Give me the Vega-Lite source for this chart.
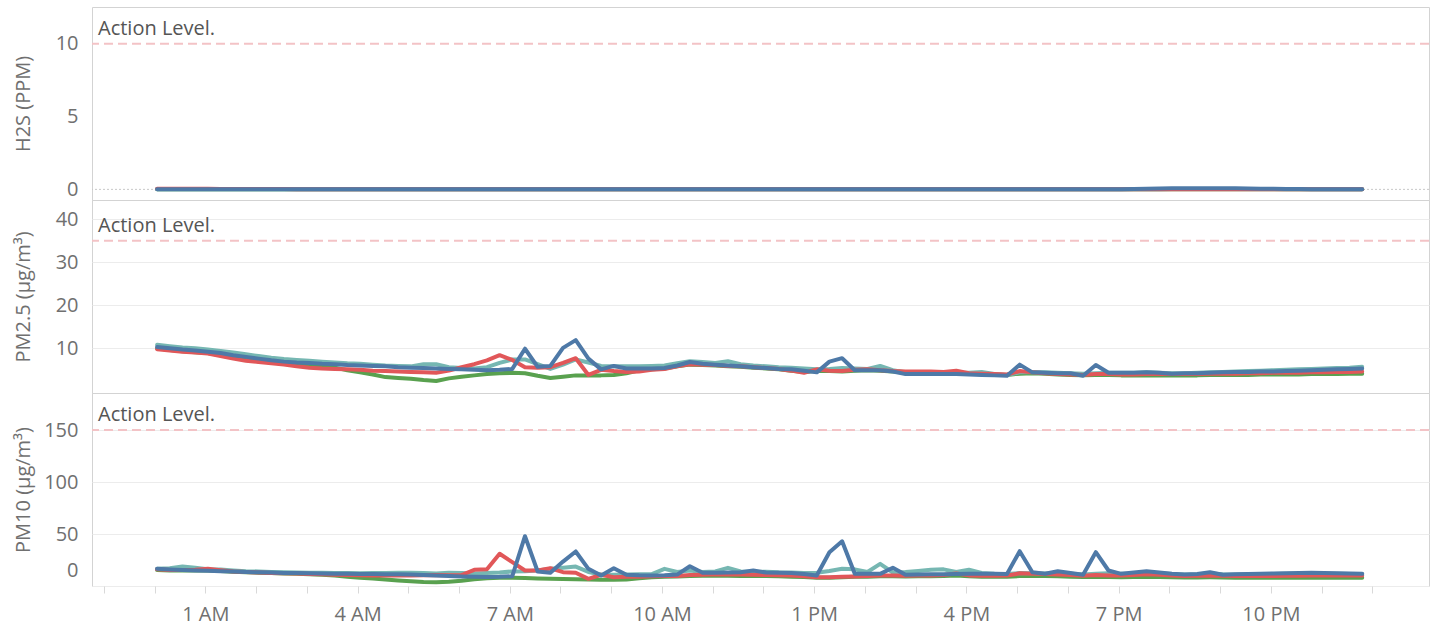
{
"$schema": "https://vega.github.io/schema/vega-lite/v6.json",
"autosize": {"type": "pad"},
"padding": {"left": 12, "top": 6, "right": 3, "bottom": 5},
"bounds": "flush",
"background": "white",
"spacing": 0,
"resolve": {"scale": {"x": "independent", "y": "independent"}},
"config": {
  "view": {"stroke": "#d3d3d3", "strokeWidth": 1},
  "font": "Open Sans",
  "axis": {"labelFont": "Open Sans", "titleFont": "Open Sans", "labelFontSize": 20, "labelColor": "#707070", "titleFontSize": 20, "titleColor": "#707070", "titleFontWeight": "normal", "gridColor": "#ececec", "domain": false, "ticks": false}
},
"datasets": {
"d": [
{"t":"2024-01-01T00:03","s":"Green","h2s":0,"pm25":10.0,"pm10":15.5},
{"t":"2024-01-01T00:18","s":"Green","h2s":0,"pm25":9.6,"pm10":15.0},
{"t":"2024-01-01T00:33","s":"Green","h2s":0,"pm25":9.3,"pm10":14.8},
{"t":"2024-01-01T00:48","s":"Green","h2s":0,"pm25":9.1,"pm10":14.8},
{"t":"2024-01-01T01:03","s":"Green","h2s":0,"pm25":8.9,"pm10":15.0},
{"t":"2024-01-01T01:18","s":"Green","h2s":0,"pm25":8.4,"pm10":14.5},
{"t":"2024-01-01T01:33","s":"Green","h2s":0,"pm25":7.8,"pm10":13.7},
{"t":"2024-01-01T01:48","s":"Green","h2s":0,"pm25":7.3,"pm10":13.2},
{"t":"2024-01-01T02:03","s":"Green","h2s":0,"pm25":7.0,"pm10":12.8},
{"t":"2024-01-01T02:18","s":"Green","h2s":0,"pm25":6.7,"pm10":12.4},
{"t":"2024-01-01T02:33","s":"Green","h2s":0,"pm25":6.4,"pm10":12.1},
{"t":"2024-01-01T02:48","s":"Green","h2s":0,"pm25":6.1,"pm10":11.8},
{"t":"2024-01-01T03:03","s":"Green","h2s":0,"pm25":5.9,"pm10":11.4},
{"t":"2024-01-01T03:18","s":"Green","h2s":0,"pm25":5.7,"pm10":10.8},
{"t":"2024-01-01T03:33","s":"Green","h2s":0,"pm25":5.5,"pm10":10.0},
{"t":"2024-01-01T03:48","s":"Green","h2s":0,"pm25":4.9,"pm10":9.0},
{"t":"2024-01-01T04:03","s":"Green","h2s":0,"pm25":4.4,"pm10":8.0},
{"t":"2024-01-01T04:18","s":"Green","h2s":0,"pm25":3.9,"pm10":7.2},
{"t":"2024-01-01T04:33","s":"Green","h2s":0,"pm25":3.3,"pm10":6.3},
{"t":"2024-01-01T04:48","s":"Green","h2s":0,"pm25":3.1,"pm10":5.4},
{"t":"2024-01-01T05:03","s":"Green","h2s":0,"pm25":2.9,"pm10":4.6},
{"t":"2024-01-01T05:18","s":"Green","h2s":0,"pm25":2.6,"pm10":3.8},
{"t":"2024-01-01T05:33","s":"Green","h2s":0,"pm25":2.4,"pm10":3.6},
{"t":"2024-01-01T05:48","s":"Green","h2s":0,"pm25":3.0,"pm10":4.0},
{"t":"2024-01-01T06:03","s":"Green","h2s":0,"pm25":3.4,"pm10":5.0},
{"t":"2024-01-01T06:18","s":"Green","h2s":0,"pm25":3.7,"pm10":6.5},
{"t":"2024-01-01T06:33","s":"Green","h2s":0,"pm25":4.0,"pm10":7.5},
{"t":"2024-01-01T06:48","s":"Green","h2s":0,"pm25":4.2,"pm10":8.0},
{"t":"2024-01-01T07:03","s":"Green","h2s":0,"pm25":4.3,"pm10":8.0},
{"t":"2024-01-01T07:18","s":"Green","h2s":0,"pm25":4.2,"pm10":7.8},
{"t":"2024-01-01T07:33","s":"Green","h2s":0,"pm25":3.6,"pm10":7.3},
{"t":"2024-01-01T07:48","s":"Green","h2s":0,"pm25":3.1,"pm10":7.0},
{"t":"2024-01-01T08:03","s":"Green","h2s":0,"pm25":3.4,"pm10":6.8},
{"t":"2024-01-01T08:18","s":"Green","h2s":0,"pm25":3.7,"pm10":6.5},
{"t":"2024-01-01T08:33","s":"Green","h2s":0,"pm25":3.7,"pm10":6.2},
{"t":"2024-01-01T08:48","s":"Green","h2s":0,"pm25":3.7,"pm10":6.0},
{"t":"2024-01-01T09:03","s":"Green","h2s":0,"pm25":3.8,"pm10":6.0},
{"t":"2024-01-01T09:18","s":"Green","h2s":0,"pm25":4.2,"pm10":6.3},
{"t":"2024-01-01T09:33","s":"Green","h2s":0,"pm25":4.9,"pm10":7.5},
{"t":"2024-01-01T09:48","s":"Green","h2s":0,"pm25":5.1,"pm10":8.5},
{"t":"2024-01-01T10:03","s":"Green","h2s":0,"pm25":5.3,"pm10":9.0},
{"t":"2024-01-01T10:18","s":"Green","h2s":0,"pm25":5.8,"pm10":9.2},
{"t":"2024-01-01T10:33","s":"Green","h2s":0,"pm25":6.2,"pm10":9.6},
{"t":"2024-01-01T10:48","s":"Green","h2s":0,"pm25":6.1,"pm10":9.8},
{"t":"2024-01-01T11:03","s":"Green","h2s":0,"pm25":6.0,"pm10":10.0},
{"t":"2024-01-01T11:18","s":"Green","h2s":0,"pm25":5.8,"pm10":9.8},
{"t":"2024-01-01T11:33","s":"Green","h2s":0,"pm25":5.7,"pm10":9.7},
{"t":"2024-01-01T11:48","s":"Green","h2s":0,"pm25":5.5,"pm10":9.6},
{"t":"2024-01-01T12:03","s":"Green","h2s":0,"pm25":5.3,"pm10":9.5},
{"t":"2024-01-01T12:18","s":"Green","h2s":0,"pm25":5.1,"pm10":9.3},
{"t":"2024-01-01T12:33","s":"Green","h2s":0,"pm25":4.8,"pm10":9.0},
{"t":"2024-01-01T12:48","s":"Green","h2s":0,"pm25":4.5,"pm10":8.6},
{"t":"2024-01-01T13:03","s":"Green","h2s":0,"pm25":4.8,"pm10":8.0},
{"t":"2024-01-01T13:18","s":"Green","h2s":0,"pm25":4.7,"pm10":8.0},
{"t":"2024-01-01T13:33","s":"Green","h2s":0,"pm25":4.6,"pm10":8.4},
{"t":"2024-01-01T13:48","s":"Green","h2s":0,"pm25":4.8,"pm10":8.8},
{"t":"2024-01-01T14:03","s":"Green","h2s":0,"pm25":4.9,"pm10":9.0},
{"t":"2024-01-01T14:18","s":"Green","h2s":0,"pm25":4.8,"pm10":9.3},
{"t":"2024-01-01T14:33","s":"Green","h2s":0,"pm25":4.6,"pm10":9.3},
{"t":"2024-01-01T14:48","s":"Green","h2s":0,"pm25":4.5,"pm10":9.2},
{"t":"2024-01-01T15:03","s":"Green","h2s":0,"pm25":4.4,"pm10":9.3},
{"t":"2024-01-01T15:18","s":"Green","h2s":0,"pm25":4.4,"pm10":9.3},
{"t":"2024-01-01T15:33","s":"Green","h2s":0,"pm25":4.4,"pm10":9.5},
{"t":"2024-01-01T15:48","s":"Green","h2s":0,"pm25":4.4,"pm10":10.0},
{"t":"2024-01-01T16:03","s":"Green","h2s":0,"pm25":4.1,"pm10":9.4},
{"t":"2024-01-01T16:18","s":"Green","h2s":0,"pm25":4.0,"pm10":9.0},
{"t":"2024-01-01T16:33","s":"Green","h2s":0,"pm25":3.9,"pm10":8.8},
{"t":"2024-01-01T16:48","s":"Green","h2s":0,"pm25":3.8,"pm10":8.8},
{"t":"2024-01-01T17:03","s":"Green","h2s":0,"pm25":4.1,"pm10":9.6},
{"t":"2024-01-01T17:18","s":"Green","h2s":0,"pm25":4.2,"pm10":9.8},
{"t":"2024-01-01T17:33","s":"Green","h2s":0,"pm25":4.1,"pm10":9.6},
{"t":"2024-01-01T17:48","s":"Green","h2s":0,"pm25":3.9,"pm10":9.3},
{"t":"2024-01-01T18:03","s":"Green","h2s":0,"pm25":3.8,"pm10":9.0},
{"t":"2024-01-01T18:18","s":"Green","h2s":0,"pm25":3.7,"pm10":8.6},
{"t":"2024-01-01T18:33","s":"Green","h2s":0,"pm25":3.8,"pm10":8.8},
{"t":"2024-01-01T18:48","s":"Green","h2s":0,"pm25":3.8,"pm10":8.7},
{"t":"2024-01-01T19:03","s":"Green","h2s":0,"pm25":3.7,"pm10":8.5},
{"t":"2024-01-01T19:18","s":"Green","h2s":0,"pm25":3.7,"pm10":8.6},
{"t":"2024-01-01T19:33","s":"Green","h2s":0,"pm25":3.7,"pm10":8.8},
{"t":"2024-01-01T19:48","s":"Green","h2s":0,"pm25":3.7,"pm10":8.7},
{"t":"2024-01-01T20:03","s":"Green","h2s":0,"pm25":3.7,"pm10":8.5},
{"t":"2024-01-01T20:18","s":"Green","h2s":0,"pm25":3.7,"pm10":8.2},
{"t":"2024-01-01T20:33","s":"Green","h2s":0,"pm25":3.7,"pm10":8.2},
{"t":"2024-01-01T20:48","s":"Green","h2s":0,"pm25":3.8,"pm10":8.3},
{"t":"2024-01-01T21:03","s":"Green","h2s":0,"pm25":3.8,"pm10":8.2},
{"t":"2024-01-01T21:18","s":"Green","h2s":0,"pm25":3.8,"pm10":8.0},
{"t":"2024-01-01T21:33","s":"Green","h2s":0,"pm25":3.8,"pm10":8.0},
{"t":"2024-01-01T21:48","s":"Green","h2s":0,"pm25":3.9,"pm10":8.0},
{"t":"2024-01-01T22:03","s":"Green","h2s":0,"pm25":3.9,"pm10":8.0},
{"t":"2024-01-01T22:18","s":"Green","h2s":0,"pm25":3.9,"pm10":8.0},
{"t":"2024-01-01T22:33","s":"Green","h2s":0,"pm25":3.9,"pm10":8.0},
{"t":"2024-01-01T22:48","s":"Green","h2s":0,"pm25":4.0,"pm10":7.9},
{"t":"2024-01-01T23:03","s":"Green","h2s":0,"pm25":4.0,"pm10":7.9},
{"t":"2024-01-01T23:18","s":"Green","h2s":0,"pm25":4.0,"pm10":7.9},
{"t":"2024-01-01T23:33","s":"Green","h2s":0,"pm25":4.1,"pm10":7.9},
{"t":"2024-01-01T23:48","s":"Green","h2s":0,"pm25":4.1,"pm10":7.9},
{"t":"2024-01-01T00:03","s":"Teal","h2s":0,"pm25":10.8,"pm10":16.5},
{"t":"2024-01-01T00:18","s":"Teal","h2s":0,"pm25":10.5,"pm10":17.0},
{"t":"2024-01-01T00:33","s":"Teal","h2s":0,"pm25":10.2,"pm10":18.7},
{"t":"2024-01-01T00:48","s":"Teal","h2s":0,"pm25":10.0,"pm10":17.5},
{"t":"2024-01-01T01:03","s":"Teal","h2s":0,"pm25":9.7,"pm10":16.2},
{"t":"2024-01-01T01:18","s":"Teal","h2s":0,"pm25":9.4,"pm10":15.8},
{"t":"2024-01-01T01:33","s":"Teal","h2s":0,"pm25":9.0,"pm10":15.0},
{"t":"2024-01-01T01:48","s":"Teal","h2s":0,"pm25":8.6,"pm10":14.3},
{"t":"2024-01-01T02:03","s":"Teal","h2s":0,"pm25":8.2,"pm10":14.0},
{"t":"2024-01-01T02:18","s":"Teal","h2s":0,"pm25":7.8,"pm10":13.5},
{"t":"2024-01-01T02:33","s":"Teal","h2s":0,"pm25":7.5,"pm10":13.2},
{"t":"2024-01-01T02:48","s":"Teal","h2s":0,"pm25":7.3,"pm10":13.0},
{"t":"2024-01-01T03:03","s":"Teal","h2s":0,"pm25":7.1,"pm10":12.8},
{"t":"2024-01-01T03:18","s":"Teal","h2s":0,"pm25":6.9,"pm10":12.7},
{"t":"2024-01-01T03:33","s":"Teal","h2s":0,"pm25":6.7,"pm10":12.5},
{"t":"2024-01-01T03:48","s":"Teal","h2s":0,"pm25":6.5,"pm10":12.4},
{"t":"2024-01-01T04:03","s":"Teal","h2s":0,"pm25":6.4,"pm10":12.3},
{"t":"2024-01-01T04:18","s":"Teal","h2s":0,"pm25":6.2,"pm10":12.4},
{"t":"2024-01-01T04:33","s":"Teal","h2s":0,"pm25":6.0,"pm10":12.6},
{"t":"2024-01-01T04:48","s":"Teal","h2s":0,"pm25":5.9,"pm10":12.8},
{"t":"2024-01-01T05:03","s":"Teal","h2s":0,"pm25":5.8,"pm10":12.8},
{"t":"2024-01-01T05:18","s":"Teal","h2s":0,"pm25":6.3,"pm10":12.5},
{"t":"2024-01-01T05:33","s":"Teal","h2s":0,"pm25":6.3,"pm10":12.0},
{"t":"2024-01-01T05:48","s":"Teal","h2s":0,"pm25":5.6,"pm10":12.8},
{"t":"2024-01-01T06:03","s":"Teal","h2s":0,"pm25":5.4,"pm10":12.6},
{"t":"2024-01-01T06:18","s":"Teal","h2s":0,"pm25":5.3,"pm10":12.0},
{"t":"2024-01-01T06:33","s":"Teal","h2s":0,"pm25":5.6,"pm10":12.5},
{"t":"2024-01-01T06:48","s":"Teal","h2s":0,"pm25":6.6,"pm10":13.0},
{"t":"2024-01-01T07:03","s":"Teal","h2s":0,"pm25":7.4,"pm10":14.0},
{"t":"2024-01-01T07:18","s":"Teal","h2s":0,"pm25":7.4,"pm10":14.2},
{"t":"2024-01-01T07:33","s":"Teal","h2s":0,"pm25":6.3,"pm10":15.0},
{"t":"2024-01-01T07:48","s":"Teal","h2s":0,"pm25":5.2,"pm10":16.5},
{"t":"2024-01-01T08:03","s":"Teal","h2s":0,"pm25":6.2,"pm10":17.5},
{"t":"2024-01-01T08:18","s":"Teal","h2s":0,"pm25":7.4,"pm10":18.7},
{"t":"2024-01-01T08:33","s":"Teal","h2s":0,"pm25":6.7,"pm10":13.5},
{"t":"2024-01-01T08:48","s":"Teal","h2s":0,"pm25":5.9,"pm10":11.0},
{"t":"2024-01-01T09:03","s":"Teal","h2s":0,"pm25":5.8,"pm10":10.8},
{"t":"2024-01-01T09:18","s":"Teal","h2s":0,"pm25":5.8,"pm10":11.0},
{"t":"2024-01-01T09:33","s":"Teal","h2s":0,"pm25":5.8,"pm10":11.3},
{"t":"2024-01-01T09:48","s":"Teal","h2s":0,"pm25":5.9,"pm10":11.5},
{"t":"2024-01-01T10:03","s":"Teal","h2s":0,"pm25":6.0,"pm10":16.5},
{"t":"2024-01-01T10:18","s":"Teal","h2s":0,"pm25":6.5,"pm10":13.5},
{"t":"2024-01-01T10:33","s":"Teal","h2s":0,"pm25":7.0,"pm10":15.0},
{"t":"2024-01-01T10:48","s":"Teal","h2s":0,"pm25":6.8,"pm10":13.5},
{"t":"2024-01-01T11:03","s":"Teal","h2s":0,"pm25":6.6,"pm10":14.0},
{"t":"2024-01-01T11:18","s":"Teal","h2s":0,"pm25":7.0,"pm10":17.5},
{"t":"2024-01-01T11:33","s":"Teal","h2s":0,"pm25":6.3,"pm10":14.0},
{"t":"2024-01-01T11:48","s":"Teal","h2s":0,"pm25":6.0,"pm10":13.5},
{"t":"2024-01-01T12:03","s":"Teal","h2s":0,"pm25":5.8,"pm10":13.8},
{"t":"2024-01-01T12:18","s":"Teal","h2s":0,"pm25":5.6,"pm10":13.2},
{"t":"2024-01-01T12:33","s":"Teal","h2s":0,"pm25":5.5,"pm10":13.0},
{"t":"2024-01-01T12:48","s":"Teal","h2s":0,"pm25":5.3,"pm10":12.5},
{"t":"2024-01-01T13:03","s":"Teal","h2s":0,"pm25":5.1,"pm10":12.8},
{"t":"2024-01-01T13:18","s":"Teal","h2s":0,"pm25":5.2,"pm10":14.5},
{"t":"2024-01-01T13:33","s":"Teal","h2s":0,"pm25":5.4,"pm10":16.5},
{"t":"2024-01-01T13:48","s":"Teal","h2s":0,"pm25":5.3,"pm10":16.0},
{"t":"2024-01-01T14:03","s":"Teal","h2s":0,"pm25":5.2,"pm10":13.5},
{"t":"2024-01-01T14:18","s":"Teal","h2s":0,"pm25":5.9,"pm10":21.3},
{"t":"2024-01-01T14:33","s":"Teal","h2s":0,"pm25":4.9,"pm10":13.0},
{"t":"2024-01-01T14:48","s":"Teal","h2s":0,"pm25":4.4,"pm10":13.5},
{"t":"2024-01-01T15:03","s":"Teal","h2s":0,"pm25":4.3,"pm10":14.5},
{"t":"2024-01-01T15:18","s":"Teal","h2s":0,"pm25":4.3,"pm10":15.6},
{"t":"2024-01-01T15:33","s":"Teal","h2s":0,"pm25":4.3,"pm10":16.0},
{"t":"2024-01-01T15:48","s":"Teal","h2s":0,"pm25":4.3,"pm10":13.5},
{"t":"2024-01-01T16:03","s":"Teal","h2s":0,"pm25":4.3,"pm10":15.6},
{"t":"2024-01-01T16:18","s":"Teal","h2s":0,"pm25":4.5,"pm10":12.5},
{"t":"2024-01-01T16:33","s":"Teal","h2s":0,"pm25":4.0,"pm10":11.8},
{"t":"2024-01-01T16:48","s":"Teal","h2s":0,"pm25":3.8,"pm10":11.5},
{"t":"2024-01-01T17:03","s":"Teal","h2s":0,"pm25":4.4,"pm10":12.5},
{"t":"2024-01-01T17:18","s":"Teal","h2s":0,"pm25":4.5,"pm10":12.3},
{"t":"2024-01-01T17:33","s":"Teal","h2s":0,"pm25":4.4,"pm10":12.0},
{"t":"2024-01-01T17:48","s":"Teal","h2s":0,"pm25":4.3,"pm10":12.4},
{"t":"2024-01-01T18:03","s":"Teal","h2s":0,"pm25":4.2,"pm10":11.8},
{"t":"2024-01-01T18:18","s":"Teal","h2s":0,"pm25":4.1,"pm10":11.0},
{"t":"2024-01-01T18:33","s":"Teal","h2s":0,"pm25":4.2,"pm10":11.8},
{"t":"2024-01-01T18:48","s":"Teal","h2s":0,"pm25":4.3,"pm10":12.2},
{"t":"2024-01-01T19:03","s":"Teal","h2s":0,"pm25":4.3,"pm10":11.8},
{"t":"2024-01-01T19:18","s":"Teal","h2s":0,"pm25":4.3,"pm10":12.0},
{"t":"2024-01-01T19:33","s":"Teal","h2s":0,"pm25":4.4,"pm10":12.5},
{"t":"2024-01-01T19:48","s":"Teal","h2s":0,"pm25":4.3,"pm10":12.2},
{"t":"2024-01-01T20:03","s":"Teal","h2s":0.03,"pm25":4.2,"pm10":11.6},
{"t":"2024-01-01T20:18","s":"Teal","h2s":0.03,"pm25":4.2,"pm10":11.0},
{"t":"2024-01-01T20:33","s":"Teal","h2s":0.03,"pm25":4.3,"pm10":11.2},
{"t":"2024-01-01T20:48","s":"Teal","h2s":0.03,"pm25":4.4,"pm10":12.0},
{"t":"2024-01-01T21:03","s":"Teal","h2s":0.03,"pm25":4.5,"pm10":11.2},
{"t":"2024-01-01T21:18","s":"Teal","h2s":0.03,"pm25":4.6,"pm10":11.0},
{"t":"2024-01-01T21:33","s":"Teal","h2s":0.03,"pm25":4.7,"pm10":11.2},
{"t":"2024-01-01T21:48","s":"Teal","h2s":0.03,"pm25":4.8,"pm10":11.4},
{"t":"2024-01-01T22:03","s":"Teal","h2s":0.03,"pm25":4.9,"pm10":11.6},
{"t":"2024-01-01T22:18","s":"Teal","h2s":0,"pm25":5.0,"pm10":11.7},
{"t":"2024-01-01T22:33","s":"Teal","h2s":0,"pm25":5.1,"pm10":11.8},
{"t":"2024-01-01T22:48","s":"Teal","h2s":0,"pm25":5.2,"pm10":12.0},
{"t":"2024-01-01T23:03","s":"Teal","h2s":0,"pm25":5.3,"pm10":11.9},
{"t":"2024-01-01T23:18","s":"Teal","h2s":0,"pm25":5.4,"pm10":11.8},
{"t":"2024-01-01T23:33","s":"Teal","h2s":0,"pm25":5.5,"pm10":11.6},
{"t":"2024-01-01T23:48","s":"Teal","h2s":0,"pm25":5.7,"pm10":11.5},
{"t":"2024-01-01T00:03","s":"Red","h2s":0.05,"pm25":9.8,"pm10":16.0},
{"t":"2024-01-01T00:18","s":"Red","h2s":0.05,"pm25":9.5,"pm10":15.5},
{"t":"2024-01-01T00:33","s":"Red","h2s":0.05,"pm25":9.2,"pm10":15.3},
{"t":"2024-01-01T00:48","s":"Red","h2s":0.05,"pm25":9.0,"pm10":15.6},
{"t":"2024-01-01T01:03","s":"Red","h2s":0.05,"pm25":8.8,"pm10":16.5},
{"t":"2024-01-01T01:18","s":"Red","h2s":0.03,"pm25":8.2,"pm10":15.2},
{"t":"2024-01-01T01:33","s":"Red","h2s":0.03,"pm25":7.6,"pm10":14.0},
{"t":"2024-01-01T01:48","s":"Red","h2s":0.03,"pm25":7.1,"pm10":13.5},
{"t":"2024-01-01T02:03","s":"Red","h2s":0.03,"pm25":6.8,"pm10":13.0},
{"t":"2024-01-01T02:18","s":"Red","h2s":0.03,"pm25":6.5,"pm10":12.6},
{"t":"2024-01-01T02:33","s":"Red","h2s":0.03,"pm25":6.2,"pm10":12.3},
{"t":"2024-01-01T02:48","s":"Red","h2s":0,"pm25":5.8,"pm10":12.0},
{"t":"2024-01-01T03:03","s":"Red","h2s":0,"pm25":5.5,"pm10":11.6},
{"t":"2024-01-01T03:18","s":"Red","h2s":0,"pm25":5.3,"pm10":11.2},
{"t":"2024-01-01T03:33","s":"Red","h2s":0,"pm25":5.2,"pm10":10.9},
{"t":"2024-01-01T03:48","s":"Red","h2s":0,"pm25":5.1,"pm10":10.6},
{"t":"2024-01-01T04:03","s":"Red","h2s":0,"pm25":5.0,"pm10":10.4},
{"t":"2024-01-01T04:18","s":"Red","h2s":0,"pm25":4.8,"pm10":10.2},
{"t":"2024-01-01T04:33","s":"Red","h2s":0,"pm25":4.7,"pm10":10.0},
{"t":"2024-01-01T04:48","s":"Red","h2s":0,"pm25":4.6,"pm10":10.0},
{"t":"2024-01-01T05:03","s":"Red","h2s":0,"pm25":4.5,"pm10":10.2},
{"t":"2024-01-01T05:18","s":"Red","h2s":0,"pm25":4.4,"pm10":10.4},
{"t":"2024-01-01T05:33","s":"Red","h2s":0,"pm25":4.3,"pm10":10.5},
{"t":"2024-01-01T05:48","s":"Red","h2s":0,"pm25":4.8,"pm10":10.3},
{"t":"2024-01-01T06:03","s":"Red","h2s":0,"pm25":5.6,"pm10":10.6},
{"t":"2024-01-01T06:18","s":"Red","h2s":0,"pm25":6.3,"pm10":15.6},
{"t":"2024-01-01T06:33","s":"Red","h2s":0,"pm25":7.2,"pm10":16.0},
{"t":"2024-01-01T06:48","s":"Red","h2s":0,"pm25":8.4,"pm10":31.0},
{"t":"2024-01-01T07:03","s":"Red","h2s":0,"pm25":7.3,"pm10":22.9},
{"t":"2024-01-01T07:18","s":"Red","h2s":0,"pm25":5.6,"pm10":14.9},
{"t":"2024-01-01T07:33","s":"Red","h2s":0,"pm25":5.5,"pm10":14.9},
{"t":"2024-01-01T07:48","s":"Red","h2s":0,"pm25":5.6,"pm10":17.1},
{"t":"2024-01-01T08:03","s":"Red","h2s":0,"pm25":6.6,"pm10":13.3},
{"t":"2024-01-01T08:18","s":"Red","h2s":0,"pm25":7.7,"pm10":12.7},
{"t":"2024-01-01T08:33","s":"Red","h2s":0,"pm25":3.8,"pm10":6.9},
{"t":"2024-01-01T08:48","s":"Red","h2s":0,"pm25":5.0,"pm10":10.8},
{"t":"2024-01-01T09:03","s":"Red","h2s":0,"pm25":4.7,"pm10":8.5},
{"t":"2024-01-01T09:18","s":"Red","h2s":0,"pm25":4.5,"pm10":8.8},
{"t":"2024-01-01T09:33","s":"Red","h2s":0,"pm25":4.6,"pm10":9.0},
{"t":"2024-01-01T09:48","s":"Red","h2s":0,"pm25":5.0,"pm10":9.3},
{"t":"2024-01-01T10:03","s":"Red","h2s":0,"pm25":5.2,"pm10":9.5},
{"t":"2024-01-01T10:18","s":"Red","h2s":0,"pm25":5.8,"pm10":9.7},
{"t":"2024-01-01T10:33","s":"Red","h2s":0,"pm25":6.3,"pm10":10.5},
{"t":"2024-01-01T10:48","s":"Red","h2s":0,"pm25":6.2,"pm10":10.8},
{"t":"2024-01-01T11:03","s":"Red","h2s":0,"pm25":6.1,"pm10":11.2},
{"t":"2024-01-01T11:18","s":"Red","h2s":0,"pm25":5.9,"pm10":11.0},
{"t":"2024-01-01T11:33","s":"Red","h2s":0,"pm25":5.8,"pm10":11.0},
{"t":"2024-01-01T11:48","s":"Red","h2s":0,"pm25":5.6,"pm10":10.8},
{"t":"2024-01-01T12:03","s":"Red","h2s":0,"pm25":5.4,"pm10":10.6},
{"t":"2024-01-01T12:18","s":"Red","h2s":0,"pm25":5.2,"pm10":10.4},
{"t":"2024-01-01T12:33","s":"Red","h2s":0,"pm25":4.8,"pm10":10.0},
{"t":"2024-01-01T12:48","s":"Red","h2s":0,"pm25":4.3,"pm10":9.4},
{"t":"2024-01-01T13:03","s":"Red","h2s":0,"pm25":5.1,"pm10":8.5},
{"t":"2024-01-01T13:18","s":"Red","h2s":0,"pm25":4.8,"pm10":8.3},
{"t":"2024-01-01T13:33","s":"Red","h2s":0,"pm25":4.7,"pm10":8.8},
{"t":"2024-01-01T13:48","s":"Red","h2s":0,"pm25":5.0,"pm10":9.2},
{"t":"2024-01-01T14:03","s":"Red","h2s":0,"pm25":5.1,"pm10":9.5},
{"t":"2024-01-01T14:18","s":"Red","h2s":0,"pm25":4.9,"pm10":10.0},
{"t":"2024-01-01T14:33","s":"Red","h2s":0,"pm25":4.7,"pm10":10.0},
{"t":"2024-01-01T14:48","s":"Red","h2s":0,"pm25":4.6,"pm10":9.8},
{"t":"2024-01-01T15:03","s":"Red","h2s":0,"pm25":4.6,"pm10":10.0},
{"t":"2024-01-01T15:18","s":"Red","h2s":0,"pm25":4.6,"pm10":10.0},
{"t":"2024-01-01T15:33","s":"Red","h2s":0,"pm25":4.5,"pm10":10.5},
{"t":"2024-01-01T15:48","s":"Red","h2s":0,"pm25":4.8,"pm10":12.0},
{"t":"2024-01-01T16:03","s":"Red","h2s":0,"pm25":4.2,"pm10":10.2},
{"t":"2024-01-01T16:18","s":"Red","h2s":0,"pm25":4.1,"pm10":9.8},
{"t":"2024-01-01T16:33","s":"Red","h2s":0,"pm25":4.0,"pm10":9.8},
{"t":"2024-01-01T16:48","s":"Red","h2s":0,"pm25":3.9,"pm10":10.0},
{"t":"2024-01-01T17:03","s":"Red","h2s":0,"pm25":4.7,"pm10":12.2},
{"t":"2024-01-01T17:18","s":"Red","h2s":0,"pm25":4.4,"pm10":11.8},
{"t":"2024-01-01T17:33","s":"Red","h2s":0,"pm25":4.2,"pm10":11.5},
{"t":"2024-01-01T17:48","s":"Red","h2s":0,"pm25":4.0,"pm10":11.0},
{"t":"2024-01-01T18:03","s":"Red","h2s":0,"pm25":3.9,"pm10":10.6},
{"t":"2024-01-01T18:18","s":"Red","h2s":0,"pm25":3.8,"pm10":9.8},
{"t":"2024-01-01T18:33","s":"Red","h2s":0,"pm25":4.0,"pm10":10.5},
{"t":"2024-01-01T18:48","s":"Red","h2s":0,"pm25":4.0,"pm10":10.2},
{"t":"2024-01-01T19:03","s":"Red","h2s":0,"pm25":3.9,"pm10":10.0},
{"t":"2024-01-01T19:18","s":"Red","h2s":0,"pm25":3.9,"pm10":10.6},
{"t":"2024-01-01T19:33","s":"Red","h2s":0,"pm25":4.0,"pm10":11.2},
{"t":"2024-01-01T19:48","s":"Red","h2s":0,"pm25":4.0,"pm10":10.8},
{"t":"2024-01-01T20:03","s":"Red","h2s":0,"pm25":4.0,"pm10":10.2},
{"t":"2024-01-01T20:18","s":"Red","h2s":0,"pm25":4.0,"pm10":9.6},
{"t":"2024-01-01T20:33","s":"Red","h2s":0,"pm25":4.0,"pm10":9.8},
{"t":"2024-01-01T20:48","s":"Red","h2s":0,"pm25":4.1,"pm10":10.2},
{"t":"2024-01-01T21:03","s":"Red","h2s":0,"pm25":4.1,"pm10":9.9},
{"t":"2024-01-01T21:18","s":"Red","h2s":0,"pm25":4.1,"pm10":9.6},
{"t":"2024-01-01T21:33","s":"Red","h2s":0,"pm25":4.2,"pm10":9.5},
{"t":"2024-01-01T21:48","s":"Red","h2s":0,"pm25":4.2,"pm10":9.6},
{"t":"2024-01-01T22:03","s":"Red","h2s":0,"pm25":4.3,"pm10":9.7},
{"t":"2024-01-01T22:18","s":"Red","h2s":0,"pm25":4.3,"pm10":9.8},
{"t":"2024-01-01T22:33","s":"Red","h2s":0,"pm25":4.3,"pm10":9.9},
{"t":"2024-01-01T22:48","s":"Red","h2s":0,"pm25":4.4,"pm10":10.0},
{"t":"2024-01-01T23:03","s":"Red","h2s":0,"pm25":4.4,"pm10":10.0},
{"t":"2024-01-01T23:18","s":"Red","h2s":0,"pm25":4.5,"pm10":10.1},
{"t":"2024-01-01T23:33","s":"Red","h2s":0,"pm25":4.5,"pm10":10.1},
{"t":"2024-01-01T23:48","s":"Red","h2s":0,"pm25":4.6,"pm10":10.1},
{"t":"2024-01-01T00:03","s":"Blue","h2s":0,"pm25":10.3,"pm10":16.5},
{"t":"2024-01-01T00:18","s":"Blue","h2s":0,"pm25":10.0,"pm10":15.8},
{"t":"2024-01-01T00:33","s":"Blue","h2s":0,"pm25":9.7,"pm10":15.3},
{"t":"2024-01-01T00:48","s":"Blue","h2s":0,"pm25":9.5,"pm10":15.0},
{"t":"2024-01-01T01:03","s":"Blue","h2s":0,"pm25":9.2,"pm10":14.6},
{"t":"2024-01-01T01:18","s":"Blue","h2s":0,"pm25":8.9,"pm10":14.2},
{"t":"2024-01-01T01:33","s":"Blue","h2s":0,"pm25":8.4,"pm10":13.9},
{"t":"2024-01-01T01:48","s":"Blue","h2s":0,"pm25":8.0,"pm10":13.5},
{"t":"2024-01-01T02:03","s":"Blue","h2s":0,"pm25":7.6,"pm10":13.2},
{"t":"2024-01-01T02:18","s":"Blue","h2s":0,"pm25":7.2,"pm10":12.9},
{"t":"2024-01-01T02:33","s":"Blue","h2s":0,"pm25":6.9,"pm10":12.6},
{"t":"2024-01-01T02:48","s":"Blue","h2s":0,"pm25":6.7,"pm10":12.4},
{"t":"2024-01-01T03:03","s":"Blue","h2s":0,"pm25":6.6,"pm10":12.2},
{"t":"2024-01-01T03:18","s":"Blue","h2s":0,"pm25":6.4,"pm10":12.0},
{"t":"2024-01-01T03:33","s":"Blue","h2s":0,"pm25":6.3,"pm10":11.8},
{"t":"2024-01-01T03:48","s":"Blue","h2s":0,"pm25":6.1,"pm10":11.7},
{"t":"2024-01-01T04:03","s":"Blue","h2s":0,"pm25":6.0,"pm10":11.6},
{"t":"2024-01-01T04:18","s":"Blue","h2s":0,"pm25":5.9,"pm10":11.5},
{"t":"2024-01-01T04:33","s":"Blue","h2s":0,"pm25":5.8,"pm10":11.3},
{"t":"2024-01-01T04:48","s":"Blue","h2s":0,"pm25":5.6,"pm10":11.2},
{"t":"2024-01-01T05:03","s":"Blue","h2s":0,"pm25":5.5,"pm10":11.0},
{"t":"2024-01-01T05:18","s":"Blue","h2s":0,"pm25":5.4,"pm10":10.5},
{"t":"2024-01-01T05:33","s":"Blue","h2s":0,"pm25":5.3,"pm10":10.0},
{"t":"2024-01-01T05:48","s":"Blue","h2s":0,"pm25":5.2,"pm10":9.6},
{"t":"2024-01-01T06:03","s":"Blue","h2s":0,"pm25":5.1,"pm10":9.2},
{"t":"2024-01-01T06:18","s":"Blue","h2s":0,"pm25":5.0,"pm10":8.8},
{"t":"2024-01-01T06:33","s":"Blue","h2s":0,"pm25":4.9,"pm10":8.6},
{"t":"2024-01-01T06:48","s":"Blue","h2s":0,"pm25":5.0,"pm10":8.8},
{"t":"2024-01-01T07:03","s":"Blue","h2s":0,"pm25":5.2,"pm10":9.4},
{"t":"2024-01-01T07:18","s":"Blue","h2s":0,"pm25":9.9,"pm10":47.9},
{"t":"2024-01-01T07:33","s":"Blue","h2s":0,"pm25":5.7,"pm10":13.9},
{"t":"2024-01-01T07:48","s":"Blue","h2s":0,"pm25":5.9,"pm10":12.7},
{"t":"2024-01-01T08:03","s":"Blue","h2s":0,"pm25":10.1,"pm10":23.5},
{"t":"2024-01-01T08:18","s":"Blue","h2s":0,"pm25":11.9,"pm10":33.2},
{"t":"2024-01-01T08:33","s":"Blue","h2s":0,"pm25":7.6,"pm10":16.5},
{"t":"2024-01-01T08:48","s":"Blue","h2s":0,"pm25":5.1,"pm10":10.1},
{"t":"2024-01-01T09:03","s":"Blue","h2s":0,"pm25":5.9,"pm10":17.1},
{"t":"2024-01-01T09:18","s":"Blue","h2s":0,"pm25":5.3,"pm10":10.8},
{"t":"2024-01-01T09:33","s":"Blue","h2s":0,"pm25":5.3,"pm10":10.3},
{"t":"2024-01-01T09:48","s":"Blue","h2s":0,"pm25":5.3,"pm10":10.2},
{"t":"2024-01-01T10:03","s":"Blue","h2s":0,"pm25":5.4,"pm10":10.3},
{"t":"2024-01-01T10:18","s":"Blue","h2s":0,"pm25":6.0,"pm10":11.0},
{"t":"2024-01-01T10:33","s":"Blue","h2s":0,"pm25":6.8,"pm10":19.0},
{"t":"2024-01-01T10:48","s":"Blue","h2s":0,"pm25":6.4,"pm10":12.7},
{"t":"2024-01-01T11:03","s":"Blue","h2s":0,"pm25":6.2,"pm10":12.8},
{"t":"2024-01-01T11:18","s":"Blue","h2s":0,"pm25":6.0,"pm10":12.9},
{"t":"2024-01-01T11:33","s":"Blue","h2s":0,"pm25":5.8,"pm10":13.2},
{"t":"2024-01-01T11:48","s":"Blue","h2s":0,"pm25":5.6,"pm10":14.9},
{"t":"2024-01-01T12:03","s":"Blue","h2s":0,"pm25":5.4,"pm10":13.0},
{"t":"2024-01-01T12:18","s":"Blue","h2s":0,"pm25":5.2,"pm10":12.8},
{"t":"2024-01-01T12:33","s":"Blue","h2s":0,"pm25":5.1,"pm10":12.4},
{"t":"2024-01-01T12:48","s":"Blue","h2s":0,"pm25":4.8,"pm10":11.6},
{"t":"2024-01-01T13:03","s":"Blue","h2s":0,"pm25":4.4,"pm10":10.1},
{"t":"2024-01-01T13:18","s":"Blue","h2s":0,"pm25":6.9,"pm10":32.5},
{"t":"2024-01-01T13:33","s":"Blue","h2s":0,"pm25":7.7,"pm10":43.0},
{"t":"2024-01-01T13:48","s":"Blue","h2s":0,"pm25":4.9,"pm10":11.7},
{"t":"2024-01-01T14:03","s":"Blue","h2s":0,"pm25":4.9,"pm10":11.7},
{"t":"2024-01-01T14:18","s":"Blue","h2s":0,"pm25":4.9,"pm10":11.7},
{"t":"2024-01-01T14:33","s":"Blue","h2s":0,"pm25":4.6,"pm10":17.5},
{"t":"2024-01-01T14:48","s":"Blue","h2s":0,"pm25":4.0,"pm10":10.8},
{"t":"2024-01-01T15:03","s":"Blue","h2s":0,"pm25":4.0,"pm10":11.0},
{"t":"2024-01-01T15:18","s":"Blue","h2s":0,"pm25":4.0,"pm10":11.2},
{"t":"2024-01-01T15:33","s":"Blue","h2s":0,"pm25":4.0,"pm10":11.4},
{"t":"2024-01-01T15:48","s":"Blue","h2s":0,"pm25":4.0,"pm10":11.6},
{"t":"2024-01-01T16:03","s":"Blue","h2s":0,"pm25":3.9,"pm10":11.7},
{"t":"2024-01-01T16:18","s":"Blue","h2s":0,"pm25":3.8,"pm10":11.7},
{"t":"2024-01-01T16:33","s":"Blue","h2s":0,"pm25":3.7,"pm10":11.7},
{"t":"2024-01-01T16:48","s":"Blue","h2s":0,"pm25":3.6,"pm10":11.6},
{"t":"2024-01-01T17:03","s":"Blue","h2s":0,"pm25":6.2,"pm10":33.5},
{"t":"2024-01-01T17:18","s":"Blue","h2s":0,"pm25":4.4,"pm10":13.3},
{"t":"2024-01-01T17:33","s":"Blue","h2s":0,"pm25":4.3,"pm10":11.7},
{"t":"2024-01-01T17:48","s":"Blue","h2s":0,"pm25":4.2,"pm10":14.2},
{"t":"2024-01-01T18:03","s":"Blue","h2s":0,"pm25":4.2,"pm10":12.5},
{"t":"2024-01-01T18:18","s":"Blue","h2s":0,"pm25":3.6,"pm10":10.8},
{"t":"2024-01-01T18:33","s":"Blue","h2s":0,"pm25":6.1,"pm10":32.5},
{"t":"2024-01-01T18:48","s":"Blue","h2s":0,"pm25":4.3,"pm10":14.9},
{"t":"2024-01-01T19:03","s":"Blue","h2s":0,"pm25":4.3,"pm10":11.7},
{"t":"2024-01-01T19:18","s":"Blue","h2s":0.02,"pm25":4.3,"pm10":13.0},
{"t":"2024-01-01T19:33","s":"Blue","h2s":0.04,"pm25":4.4,"pm10":14.2},
{"t":"2024-01-01T19:48","s":"Blue","h2s":0.06,"pm25":4.3,"pm10":13.0},
{"t":"2024-01-01T20:03","s":"Blue","h2s":0.07,"pm25":4.1,"pm10":11.8},
{"t":"2024-01-01T20:18","s":"Blue","h2s":0.08,"pm25":4.2,"pm10":11.1},
{"t":"2024-01-01T20:33","s":"Blue","h2s":0.08,"pm25":4.2,"pm10":11.5},
{"t":"2024-01-01T20:48","s":"Blue","h2s":0.08,"pm25":4.3,"pm10":13.3},
{"t":"2024-01-01T21:03","s":"Blue","h2s":0.08,"pm25":4.4,"pm10":10.8},
{"t":"2024-01-01T21:18","s":"Blue","h2s":0.07,"pm25":4.5,"pm10":11.3},
{"t":"2024-01-01T21:33","s":"Blue","h2s":0.06,"pm25":4.5,"pm10":11.6},
{"t":"2024-01-01T21:48","s":"Blue","h2s":0.05,"pm25":4.6,"pm10":11.9},
{"t":"2024-01-01T22:03","s":"Blue","h2s":0.04,"pm25":4.6,"pm10":12.1},
{"t":"2024-01-01T22:18","s":"Blue","h2s":0.03,"pm25":4.7,"pm10":12.3},
{"t":"2024-01-01T22:33","s":"Blue","h2s":0.02,"pm25":4.8,"pm10":12.5},
{"t":"2024-01-01T22:48","s":"Blue","h2s":0.01,"pm25":4.9,"pm10":12.7},
{"t":"2024-01-01T23:03","s":"Blue","h2s":0,"pm25":5.0,"pm10":12.5},
{"t":"2024-01-01T23:18","s":"Blue","h2s":0,"pm25":5.1,"pm10":12.3},
{"t":"2024-01-01T23:33","s":"Blue","h2s":0,"pm25":5.2,"pm10":12.0},
{"t":"2024-01-01T23:48","s":"Blue","h2s":0,"pm25":5.3,"pm10":11.7}
]
},
"vconcat": [
{
  "width": 1337, "height": 193,
  "layer": [
    {"data": {"values": [{"level": 10}]},
     "mark": {"type": "rule", "color": "#c8c8c8", "strokeWidth": 1, "strokeDash": [2, 2]},
     "encoding": {"y": {"datum": 0, "type": "quantitative"}}},
    {"data": {"name": "d"},
     "mark": {"type": "line", "strokeWidth": 4, "strokeCap": "round", "strokeJoin": "round"},
     "encoding": {
       "x": {"field": "t", "type": "temporal", "scale": {"domain": [{"year": 2023, "month": 12, "date": 31, "hours": 22, "minutes": 46}, {"year": 2024, "month": 1, "date": 2, "hours": 1, "minutes": 7}]}, "axis": null},
       "y": {"field": "h2s", "type": "quantitative", "scale": {"domain": [-0.73, 12.52], "nice": false, "zero": false},
             "axis": {"title": "H2S (PPM)", "values": [0, 5, 10], "labelPadding": 14, "titleX": -69, "titleBaseline": "middle"}},
       "color": {"field": "s", "type": "nominal", "scale": {"domain": ["Green", "Teal", "Red", "Blue"], "range": ["#59a14f", "#76b7b2", "#e15759", "#4e79a7"]}, "legend": null}
     }},
    {"data": {"values": [{"level": 10}]},
     "mark": {"type": "rule", "color": "#f3c3c6", "strokeWidth": 2, "strokeDash": [9, 5]},
     "encoding": {"y": {"field": "level", "type": "quantitative"}}},
    {"data": {"values": [{"level": 10}]},
     "mark": {"type": "text", "text": "Action Level.", "align": "left", "baseline": "alphabetic", "dx": 6, "dy": -9, "fontSize": 20, "font": "Open Sans", "color": "#555555"},
     "encoding": {"x": {"datum": {"year": 2023, "month": 12, "date": 31, "hours": 22, "minutes": 46}, "type": "temporal"}, "y": {"field": "level", "type": "quantitative"}}}
  ]
},
{
  "width": 1337, "height": 193,
  "layer": [
    {"data": {"name": "d"},
     "mark": {"type": "line", "strokeWidth": 4, "strokeCap": "round", "strokeJoin": "round"},
     "encoding": {
       "x": {"field": "t", "type": "temporal", "scale": {"domain": [{"year": 2023, "month": 12, "date": 31, "hours": 22, "minutes": 46}, {"year": 2024, "month": 1, "date": 2, "hours": 1, "minutes": 7}]}, "axis": null},
       "y": {"field": "pm25", "type": "quantitative", "scale": {"domain": [-0.4, 44.5], "nice": false, "zero": false},
             "axis": {"title": "PM2.5 (µg/m³)", "values": [10, 20, 30, 40], "labelPadding": 14, "titleX": -69, "titleBaseline": "middle"}},
       "color": {"field": "s", "type": "nominal", "scale": {"domain": ["Green", "Teal", "Red", "Blue"], "range": ["#59a14f", "#76b7b2", "#e15759", "#4e79a7"]}, "legend": null}
     }},
    {"data": {"values": [{"level": 35}]},
     "mark": {"type": "rule", "color": "#f3c3c6", "strokeWidth": 2, "strokeDash": [9, 5]},
     "encoding": {"y": {"field": "level", "type": "quantitative"}}},
    {"data": {"values": [{"level": 35}]},
     "mark": {"type": "text", "text": "Action Level.", "align": "left", "baseline": "alphabetic", "dx": 6, "dy": -9, "fontSize": 20, "font": "Open Sans", "color": "#555555"},
     "encoding": {"x": {"datum": {"year": 2023, "month": 12, "date": 31, "hours": 22, "minutes": 46}, "type": "temporal"}, "y": {"field": "level", "type": "quantitative"}}}
  ]
},
{
  "width": 1337, "height": 193,
  "layer": [
    {"data": {"name": "d"},
     "mark": {"type": "line", "strokeWidth": 4, "strokeCap": "round", "strokeJoin": "round"},
     "encoding": {
       "x": {"field": "t", "type": "temporal", "scale": {"domain": [{"year": 2023, "month": 12, "date": 31, "hours": 22, "minutes": 46}, {"year": 2024, "month": 1, "date": 2, "hours": 1, "minutes": 7}]},
             "axis": {"title": null, "orient": "bottom", "grid": false, "ticks": true, "tickSize": 7, "tickColor": "#d9d9d9", "labelPadding": 11, "labelOverlap": false, "labelFlush": false, "labelBound": false,
                      "values": [
                        {"year": 2023, "month": 12, "date": 31, "hours": 23},
                        {"year": 2024, "month": 1, "date": 1, "hours": 0},
                        {"year": 2024, "month": 1, "date": 1, "hours": 1},
                        {"year": 2024, "month": 1, "date": 1, "hours": 2},
                        {"year": 2024, "month": 1, "date": 1, "hours": 3},
                        {"year": 2024, "month": 1, "date": 1, "hours": 4},
                        {"year": 2024, "month": 1, "date": 1, "hours": 5},
                        {"year": 2024, "month": 1, "date": 1, "hours": 6},
                        {"year": 2024, "month": 1, "date": 1, "hours": 7},
                        {"year": 2024, "month": 1, "date": 1, "hours": 8},
                        {"year": 2024, "month": 1, "date": 1, "hours": 9},
                        {"year": 2024, "month": 1, "date": 1, "hours": 10},
                        {"year": 2024, "month": 1, "date": 1, "hours": 11},
                        {"year": 2024, "month": 1, "date": 1, "hours": 12},
                        {"year": 2024, "month": 1, "date": 1, "hours": 13},
                        {"year": 2024, "month": 1, "date": 1, "hours": 14},
                        {"year": 2024, "month": 1, "date": 1, "hours": 15},
                        {"year": 2024, "month": 1, "date": 1, "hours": 16},
                        {"year": 2024, "month": 1, "date": 1, "hours": 17},
                        {"year": 2024, "month": 1, "date": 1, "hours": 18},
                        {"year": 2024, "month": 1, "date": 1, "hours": 19},
                        {"year": 2024, "month": 1, "date": 1, "hours": 20},
                        {"year": 2024, "month": 1, "date": 1, "hours": 21},
                        {"year": 2024, "month": 1, "date": 1, "hours": 22},
                        {"year": 2024, "month": 1, "date": 1, "hours": 23},
                        {"year": 2024, "month": 1, "date": 2, "hours": 0}
                      ],
                      "labelExpr": "hours(datum.value) % 3 == 1 ? timeFormat(datum.value, '%-I %p') : ''"}},
       "y": {"field": "pm10", "type": "quantitative", "scale": {"domain": [0, 185.6], "nice": false, "zero": false},
             "axis": {"title": "PM10 (µg/m³)", "values": [0, 50, 100, 150], "labelPadding": 14, "titleX": -69, "titleBaseline": "middle", "labelFlush": true, "labelFlushOffset": -6}},
       "color": {"field": "s", "type": "nominal", "scale": {"domain": ["Green", "Teal", "Red", "Blue"], "range": ["#59a14f", "#76b7b2", "#e15759", "#4e79a7"]}, "legend": null}
     }},
    {"data": {"values": [{"level": 150}]},
     "mark": {"type": "rule", "color": "#f3c3c6", "strokeWidth": 2, "strokeDash": [9, 5]},
     "encoding": {"y": {"field": "level", "type": "quantitative"}}},
    {"data": {"values": [{"level": 150}]},
     "mark": {"type": "text", "text": "Action Level.", "align": "left", "baseline": "alphabetic", "dx": 6, "dy": -9, "fontSize": 20, "font": "Open Sans", "color": "#555555"},
     "encoding": {"x": {"datum": {"year": 2023, "month": 12, "date": 31, "hours": 22, "minutes": 46}, "type": "temporal"}, "y": {"field": "level", "type": "quantitative"}}}
  ]
}
]
}
